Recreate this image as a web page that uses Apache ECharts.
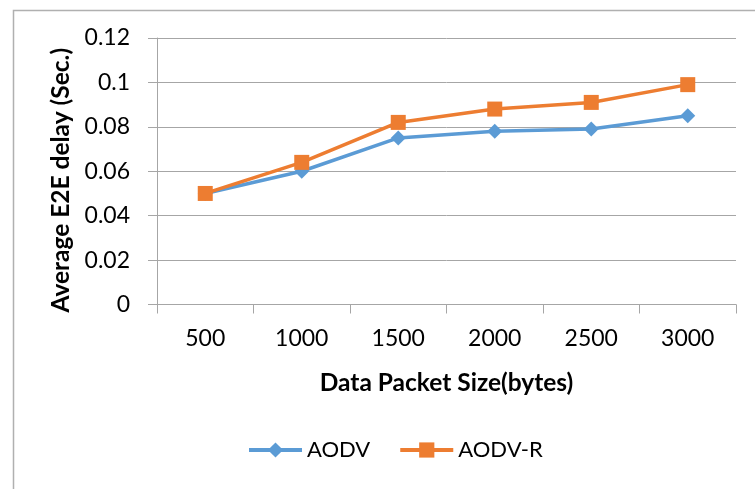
<!DOCTYPE html>
<html>
<head>
<meta charset="utf-8">
<script src="https://cdn.jsdelivr.net/npm/echarts@6/dist/echarts.min.js"></script>
<style>
  html, body { margin: 0; padding: 0; background: #fff; }
  #chart { width: 755px; height: 489px; }
</style>
</head>
<body>
<div id="chart"></div>
<script>
// Packet sizes (bytes) and average end-to-end delay (seconds)
const packetSizes = ['500', '1000', '1500', '2000', '2500', '3000'];
const aodvDelay = [0.050, 0.060, 0.075, 0.078, 0.079, 0.085];
const aodvRDelay = [0.050, 0.064, 0.082, 0.088, 0.091, 0.099];
const yTicks = { min: 0, max: 0.12, step: 0.02 };

const FONT = 'Lato';
const GRID_GRAY = '#a6a6a6';

const chart = echarts.init(document.getElementById('chart'), null, { renderer: 'canvas' });

chart.setOption({
  backgroundColor: '#ffffff',
  animation: false,
  textStyle: { fontFamily: FONT, color: '#000' },
  graphic: [{
    type: 'rect',
    left: 11, top: 8,
    shape: { width: 800, height: 600 },
    style: { fill: 'none', stroke: '#b0b0b0', lineWidth: 1.5 },
    silent: true
  }],
  grid: { left: 157, top: 38, right: 19, bottom: 184.5, containLabel: false },
  legend: {
    top: 439,
    left: 247,
    padding: 0,
    itemWidth: 53,
    itemHeight: 19,
    itemGap: 28,
    lineStyle: { width: 4 },
    textStyle: { fontFamily: FONT, fontSize: 22, color: '#000' },
    data: ['AODV', 'AODV-R']
  },
  xAxis: {
    type: 'category',
    data: packetSizes,
    boundaryGap: true,
    name: 'Data Packet Size(bytes)',
    nameLocation: 'middle',
    nameGap: 66,
    nameTextStyle: { fontFamily: FONT, fontSize: 24.5, fontWeight: 'bold', color: '#000' },
    axisLine: { show: true, lineStyle: { color: GRID_GRAY, width: 1 } },
    axisTick: { show: true, length: 9, lineStyle: { color: GRID_GRAY } },
    axisLabel: { fontFamily: FONT, fontSize: 23, color: '#000', margin: 23 },
    splitLine: { show: false }
  },
  yAxis: {
    type: 'value',
    min: yTicks.min,
    max: yTicks.max,
    interval: yTicks.step,
    name: 'Average E2E delay (Sec.)',
    nameLocation: 'middle',
    nameGap: 83,
    nameTextStyle: {
      fontFamily: FONT, fontSize: 24.5, fontWeight: 'bold', color: '#000',
      padding: [0, 18, 0, 0]
    },
    axisLine: { show: true, lineStyle: { color: GRID_GRAY, width: 1 } },
    axisTick: { show: true, length: 9, lineStyle: { color: GRID_GRAY } },
    axisLabel: {
      fontFamily: FONT, fontSize: 23, color: '#000', margin: 27,
      formatter: v => String(parseFloat(v.toFixed(2)))
    },
    splitLine: { show: true, lineStyle: { color: GRID_GRAY, width: 1 } }
  },
  series: [
    {
      name: 'AODV',
      type: 'line',
      data: aodvDelay,
      symbol: 'diamond',
      symbolSize: 15,
      showAllSymbol: true,
      lineStyle: { color: '#5B9BD5', width: 3.5 },
      itemStyle: { color: '#5B9BD5', borderWidth: 0 },
      z: 2
    },
    {
      name: 'AODV-R',
      type: 'line',
      data: aodvRDelay,
      symbol: 'rect',
      symbolSize: 15,
      showAllSymbol: true,
      lineStyle: { color: '#ED7D31', width: 3.5 },
      itemStyle: { color: '#ED7D31', borderWidth: 0 },
      z: 3
    }
  ]
});
</script>
</body>
</html>
